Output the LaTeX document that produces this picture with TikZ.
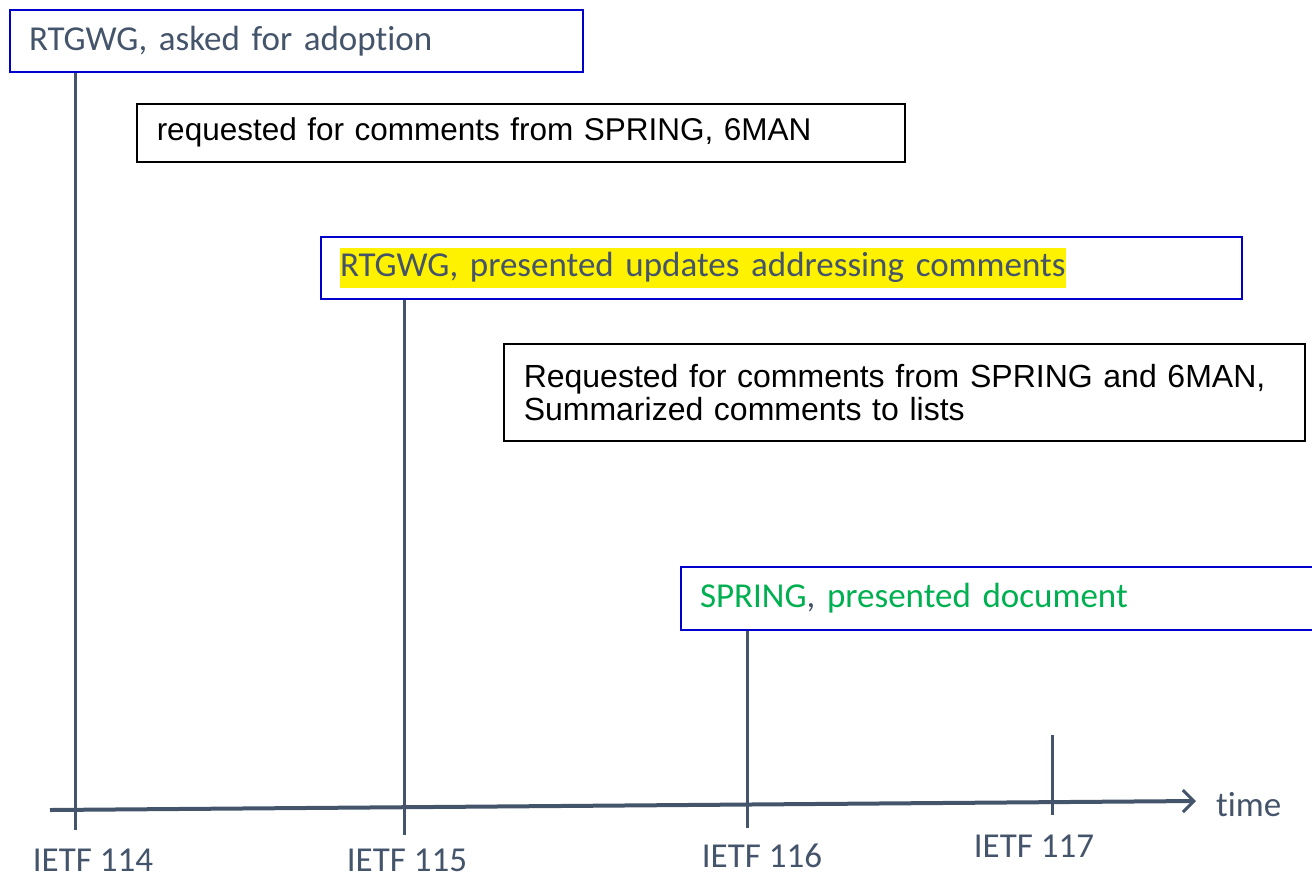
\documentclass[tikz,border=0pt]{standalone}
\usepackage{fontspec}
\setmainfont{Carlito}[Ligatures={NoCommon}]
\newfontfamily\arialf{Liberation Sans}
\usetikzlibrary{arrows.meta}
\definecolor{slate}{HTML}{44546A}
\definecolor{bblue}{HTML}{0000CC}
\definecolor{sgreen}{HTML}{00B050}
\begin{document}
\begin{tikzpicture}[x=1pt,y=-1pt,
  bluebox/.style={draw=bblue, line width=2pt, anchor=north west, inner xsep=19pt, inner ysep=0pt, align=left, text=slate, font=\fontsize{35pt}{40pt}\selectfont},
  blackbox/.style={draw=black, line width=1.5pt, anchor=north west, inner xsep=20pt, inner ysep=0pt, align=left, text=black},
  tick/.style={draw=slate, line width=3pt},
  lab/.style={text=slate, font=\fontsize{35pt}{40pt}\selectfont, inner sep=0pt}]
\useasboundingbox (0,0) rectangle (1312,879);
% boxes
\node[bluebox, minimum width=573pt, minimum height=62pt, text width=535pt] (b1) at (9,9) {RTGWG, asked for adoption};
\node[blackbox, minimum width=768pt, minimum height=58pt, text width=728pt, font=\arialf\fontsize{31.5pt}{33pt}\selectfont] (b2) at (136,103) {requested for comments from SPRING, 6MAN};
\node[bluebox, minimum width=921pt, minimum height=62pt, text width=883pt] (b3) at (320,236) {{\fboxsep=0pt\colorbox{yellow}{\strut RTGWG, presented updates addressing comments}}};
\node[blackbox, minimum width=801pt, minimum height=97pt, text width=761pt, font=\arialf\fontsize{32pt}{33pt}\selectfont] (b4) at (503,343) {Requested for comments from SPRING and 6MAN,\\Summarized comments to lists};
\node[bluebox, minimum width=640pt, minimum height=63pt, text width=602pt] (b5) at (680,566) {\textcolor{sgreen}{SPRING}, \textcolor{sgreen}{presented document}};
% axis
\coordinate (axL) at (50,810);
\coordinate (axR) at (1196,801);
\draw[draw=slate, line width=4pt, -{Straight Barb[length=11pt,width=22pt,line width=3pt]}] (axL) -- (axR);
\node[lab, anchor=west] (time) at (1216,805) {time};
% ticks
\coordinate (t1) at (75,830);
\coordinate (t2) at (404,835);
\coordinate (t3) at (747,828);
\coordinate (t4a) at (1052,735);
\coordinate (t4) at (1052,815);
\draw[tick] (b1.south -| t1) -- (t1);
\draw[tick] (b3.south -| t2) -- (t2);
\draw[tick] (b5.south -| t3) -- (t3);
\draw[tick] (t4a) -- (t4);
% labels
\node[lab] (l1) at (93,860) {IETF 114};
\node[lab] (l2) at (407,860) {IETF 115};
\node[lab] (l3) at (762,856) {IETF 116};
\node[lab] (l4) at (1034,846) {IETF 117};
\end{tikzpicture}
\end{document}
